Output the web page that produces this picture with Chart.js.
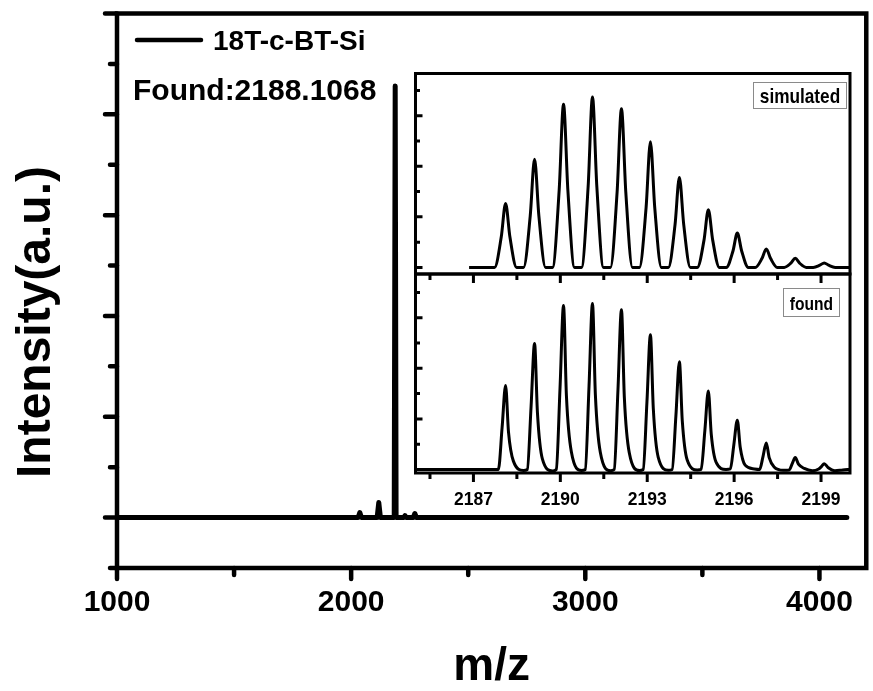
<!DOCTYPE html>
<html>
<head>
<meta charset="utf-8">
<title>18T-c-BT-Si MALDI-TOF</title>
<script src="https://cdn.jsdelivr.net/npm/chart.js@4.4.1/dist/chart.umd.min.js"></script>
<style>
  html, body { margin: 0; padding: 0; background: #fff; }
  #wrap { position: relative; width: 873px; height: 691px; }
  #wrap canvas { position: absolute; left: 0; top: 0; }
</style>
</head>
<body>
<div id="wrap">
  <canvas id="main" width="873" height="691"></canvas>
  <canvas id="sim" width="873" height="691"></canvas>
  <canvas id="found" width="873" height="691"></canvas>
</div>
<script>
// full spectrum (m/z vs intensity, a.u.)
const mzX = [1000, 2030, 2037, 2044, 2111, 2118, 2125, 2184, 2188.1, 2192, 2224, 2230, 2236, 2265, 2272, 2279, 4117];
const mzY = [0, 0, 0.05, 0, 0, 0.15, 0, 0, 4.28, 0, 0, 0.02, 0, 0, 0.04, 0, 0];
const mzTicks = [1000, 2000, 3000, 4000];
const mzMinor = [1500, 2500, 3500];
const yMajor = [0, 1, 2, 3, 4, 5];
const yMinor = [-0.5, 0.5, 1.5, 2.5, 3.5, 4.5];

// isotope pattern, zoomed (inset)
const isoTicks = [2187, 2190, 2193, 2196, 2199];
const isoMinor = [2185.5, 2188.5, 2191.5, 2194.5, 2197.5];
const isoYMajor = [0, 2, 4, 6];
const isoYMinor = [1, 3, 5, 7];

const simX = [2186.85,
  2187.73, 2187.96, 2188.11, 2188.26, 2188.49,
  2188.73, 2188.96, 2189.11, 2189.26, 2189.49,
  2189.73, 2189.96, 2190.11, 2190.26, 2190.49,
  2190.73, 2190.96, 2191.11, 2191.26, 2191.49,
  2191.73, 2191.96, 2192.11, 2192.26, 2192.49,
  2192.73, 2192.96, 2193.11, 2193.26, 2193.49,
  2193.73, 2193.96, 2194.11, 2194.26, 2194.49,
  2194.73, 2194.96, 2195.11, 2195.26, 2195.49,
  2195.73, 2195.96, 2196.11, 2196.26, 2196.49,
  2196.73, 2196.96, 2197.11, 2197.26, 2197.49,
  2197.73, 2197.96, 2198.11, 2198.26, 2198.49,
  2198.73, 2198.96, 2199.11, 2199.26, 2199.49,
  2200];
const simY = [0,
  0, 1.20, 2.53, 1.20, 0,
  0, 2.03, 4.28, 2.03, 0,
  0, 3.06, 6.45, 3.06, 0,
  0, 3.20, 6.74, 3.20, 0,
  0, 2.98, 6.28, 2.98, 0,
  0, 2.36, 4.97, 2.36, 0,
  0, 1.69, 3.56, 1.69, 0,
  0, 1.08, 2.28, 1.08, 0,
  0, 0.65, 1.36, 0.65, 0,
  0, 0.35, 0.73, 0.35, 0,
  0, 0.17, 0.36, 0.17, 0,
  0, 0.09, 0.18, 0.09, 0,
  0];

const foundX = [2185,
  2187.86, 2187.99, 2188.11, 2188.21, 2188.38, 2188.73,
  2188.86, 2188.99, 2189.11, 2189.21, 2189.38, 2189.73,
  2189.86, 2189.99, 2190.11, 2190.21, 2190.38, 2190.73,
  2190.86, 2190.99, 2191.11, 2191.21, 2191.38, 2191.73,
  2191.86, 2191.99, 2192.11, 2192.21, 2192.38, 2192.73,
  2192.86, 2192.99, 2193.11, 2193.21, 2193.38, 2193.73,
  2193.86, 2193.99, 2194.11, 2194.21, 2194.38, 2194.73,
  2194.86, 2194.99, 2195.11, 2195.21, 2195.38, 2195.72,
  2195.87, 2195.99, 2196.11, 2196.21, 2196.38, 2196.70,
  2196.88, 2197.00, 2197.11, 2197.21, 2197.38, 2197.70,
  2197.90, 2198.01, 2198.11, 2198.22, 2198.42, 2198.70,
  2198.92, 2199.02, 2199.11, 2199.24, 2199.48, 2199.75,
  2200];
const foundY = [0,
  0, 1.66, 3.32, 1.49, 0.33, -0.04,
  0, 2.49, 4.98, 2.24, 0.42, -0.06,
  0, 3.24, 6.48, 2.92, 0.70, -0.04,
  0, 3.28, 6.56, 2.95, 0.68, -0.05,
  0, 3.16, 6.32, 2.84, 0.66, -0.04,
  0, 2.67, 5.33, 2.40, 0.48, -0.03,
  0, 2.13, 4.26, 1.92, 0.37, -0.02,
  0, 1.55, 3.10, 1.40, 0.28, 0,
  0.02, 0.98, 1.95, 0.88, 0.17, 0.02,
  0, 0.53, 1.05, 0.47, 0.10, -0.03,
  -0.02, 0.24, 0.47, 0.21, 0.04, -0.05,
  0.02, 0.12, 0.23, 0.08, -0.05, -0.02,
  0];

const BOLD = "'Liberation Sans', Arial, sans-serif";

const toPoints = (xs, ys) => xs.map((x, i) => ({x: x, y: ys[i]}));
const fixedTicks = list => scale => { scale.ticks = list.map(v => ({value: v})); };

// box frame plus major/minor tick marks (len < 0 points left/out of the y axis)
const frameTicks = {
  id: 'frameTicks',
  afterDraw(chart, args, opts) {
    const {ctx, chartArea: a, scales} = chart;
    ctx.save();
    ctx.strokeStyle = '#000';
    ctx.lineWidth = opts.width;
    ctx.lineCap = opts.cap || 'butt';
    ctx.beginPath();
    (opts.marks || []).forEach(m => {
      const s = scales[m.axis];
      m.values.forEach(v => {
        const p = s.getPixelForValue(v);
        if (m.axis === 'x') {
          const y0 = m.edge === 'top' ? a.top : a.bottom;
          ctx.moveTo(p, y0);
          ctx.lineTo(p, y0 + m.len);
        } else {
          ctx.moveTo(a.left, p);
          ctx.lineTo(a.left + m.len, p);
        }
      });
    });
    ctx.stroke();
    ctx.lineCap = 'butt';
    ctx.lineJoin = 'miter';
    ctx.strokeRect(a.left, a.top, a.right - a.left, a.bottom - a.top);
    ctx.restore();
  }
};

// legend line, found mass and the rotated intensity title
const notes = {
  id: 'notes',
  afterDraw(chart) {
    const ctx = chart.ctx;
    const ds = chart.data.datasets[0];
    ctx.save();
    ctx.strokeStyle = ds.borderColor;
    ctx.lineWidth = 4.5;
    ctx.lineCap = 'round';
    ctx.beginPath();
    ctx.moveTo(137, 40);
    ctx.lineTo(201, 40);
    ctx.stroke();
    ctx.fillStyle = '#000';
    ctx.textBaseline = 'alphabetic';
    ctx.font = 'bold 28px ' + BOLD;
    ctx.fillText(ds.label, 213, 50);
    ctx.font = 'bold 30px ' + BOLD;
    ctx.fillText('Found:2188.1068', 133, 100);
    ctx.translate(50, 322);
    ctx.rotate(-Math.PI / 2);
    ctx.textAlign = 'center';
    ctx.font = 'bold 48px ' + BOLD;
    ctx.fillText('Intensity(a.u.)', 0, 0);
    ctx.restore();
  }
};

// small boxed caption in the corner of each inset panel (condensed lettering)
const tag = {
  id: 'tag',
  afterDraw(chart, args, o) {
    const ctx = chart.ctx;
    ctx.save();
    ctx.fillStyle = '#fff';
    ctx.fillRect(o.x, o.y, o.w, o.h);
    ctx.strokeStyle = '#8a8a8a';
    ctx.lineWidth = 1;
    ctx.strokeRect(o.x + 0.5, o.y + 0.5, o.w - 1, o.h - 1);
    ctx.fillStyle = '#000';
    ctx.textAlign = 'center';
    ctx.textBaseline = 'alphabetic';
    ctx.font = 'bold ' + o.size + 'px ' + BOLD;
    ctx.translate(o.x + o.w / 2, o.base);
    ctx.scale(0.82, 1);
    ctx.fillText(chart.data.datasets[0].label, 0, 0);
    ctx.restore();
  }
};

new Chart(document.getElementById('main'), {
  type: 'line',
  data: {
    datasets: [{
      label: '18T-c-BT-Si',
      data: toPoints(mzX, mzY),
      borderColor: '#000',
      borderWidth: 5,
      borderJoinStyle: 'round',
      borderCapStyle: 'round',
      pointRadius: 0,
      tension: 0
    }]
  },
  options: {
    responsive: false,
    animation: false,
    layout: {padding: {left: 117, top: 13.5, right: 3, bottom: 0}},
    plugins: {
      legend: {display: false},
      tooltip: {enabled: false},
      frameTicks: {
        width: 4.5,
        cap: 'round',
        marks: [
          {axis: 'x', edge: 'bottom', values: mzTicks, len: 11},
          {axis: 'x', edge: 'bottom', values: mzMinor, len: 7},
          {axis: 'y', values: yMajor, len: -12},
          {axis: 'y', values: yMinor, len: -7}
        ]
      }
    },
    scales: {
      x: {
        type: 'linear',
        min: 1000,
        max: 4200,
        afterBuildTicks: fixedTicks(mzTicks),
        afterFit: s => { s.height = 123; },
        grid: {display: false, drawTicks: false},
        border: {display: false},
        ticks: {
          color: '#000',
          padding: 20,
          maxRotation: 0,
          autoSkip: false,
          font: {family: BOLD, size: 30, weight: 'bold', lineHeight: 1},
          callback: v => String(v)
        },
        title: {
          display: true,
          text: 'm/z',
          color: '#000',
          padding: {top: 0, bottom: 1},
          font: {family: BOLD, size: 46, weight: 'bold', lineHeight: 1}
        }
      },
      y: {display: false, min: -0.5, max: 5}
    }
  },
  plugins: [frameTicks, notes]
});

new Chart(document.getElementById('sim'), {
  type: 'line',
  data: {
    datasets: [{
      label: 'simulated',
      data: toPoints(simX, simY),
      borderColor: '#000',
      borderWidth: 3,
      pointRadius: 0,
      cubicInterpolationMode: 'monotone'
    }]
  },
  options: {
    responsive: false,
    animation: false,
    layout: {padding: {left: 415.5, top: 73.5, right: 23, bottom: 417}},
    plugins: {
      legend: {display: false},
      tooltip: {enabled: false},
      frameTicks: {
        width: 3,
        marks: [
          {axis: 'y', values: isoYMajor, len: 7},
          {axis: 'y', values: isoYMinor, len: 4.5}
        ]
      },
      tag: {x: 753, y: 82, w: 94, h: 27, size: 21, base: 103}
    },
    scales: {
      x: {display: false, type: 'linear', min: 2185, max: 2200},
      y: {display: false, min: -0.26, max: 7.67}
    }
  },
  plugins: [frameTicks, tag]
});

new Chart(document.getElementById('found'), {
  type: 'line',
  data: {
    datasets: [{
      label: 'found',
      data: toPoints(foundX, foundY),
      borderColor: '#000',
      borderWidth: 3,
      pointRadius: 0,
      cubicInterpolationMode: 'monotone'
    }]
  },
  options: {
    responsive: false,
    animation: false,
    layout: {padding: {left: 415.5, top: 274, right: 23, bottom: 178}},
    plugins: {
      legend: {display: false},
      tooltip: {enabled: false},
      frameTicks: {
        width: 3,
        marks: [
          {axis: 'y', values: isoYMajor, len: 7},
          {axis: 'y', values: isoYMinor, len: 4.5},
          {axis: 'x', edge: 'top', values: isoTicks, len: 9},
          {axis: 'x', edge: 'top', values: isoMinor, len: 6},
          {axis: 'x', edge: 'bottom', values: isoTicks, len: 9},
          {axis: 'x', edge: 'bottom', values: isoMinor, len: 6}
        ]
      },
      tag: {x: 783, y: 288, w: 57, h: 29, size: 19, base: 310}
    },
    scales: {
      x: {
        type: 'linear',
        min: 2185,
        max: 2200,
        afterBuildTicks: fixedTicks(isoTicks),
        afterFit: s => { s.height = 40; },
        grid: {display: false, drawTicks: false},
        border: {display: false},
        ticks: {
          color: '#000',
          padding: 18,
          maxRotation: 0,
          autoSkip: false,
          font: {family: BOLD, size: 17.5, weight: 'bold', lineHeight: 1},
          callback: v => String(v)
        }
      },
      y: {display: false, min: -0.14, max: 7.73}
    }
  },
  plugins: [frameTicks, tag]
});
</script>
</body>
</html>
